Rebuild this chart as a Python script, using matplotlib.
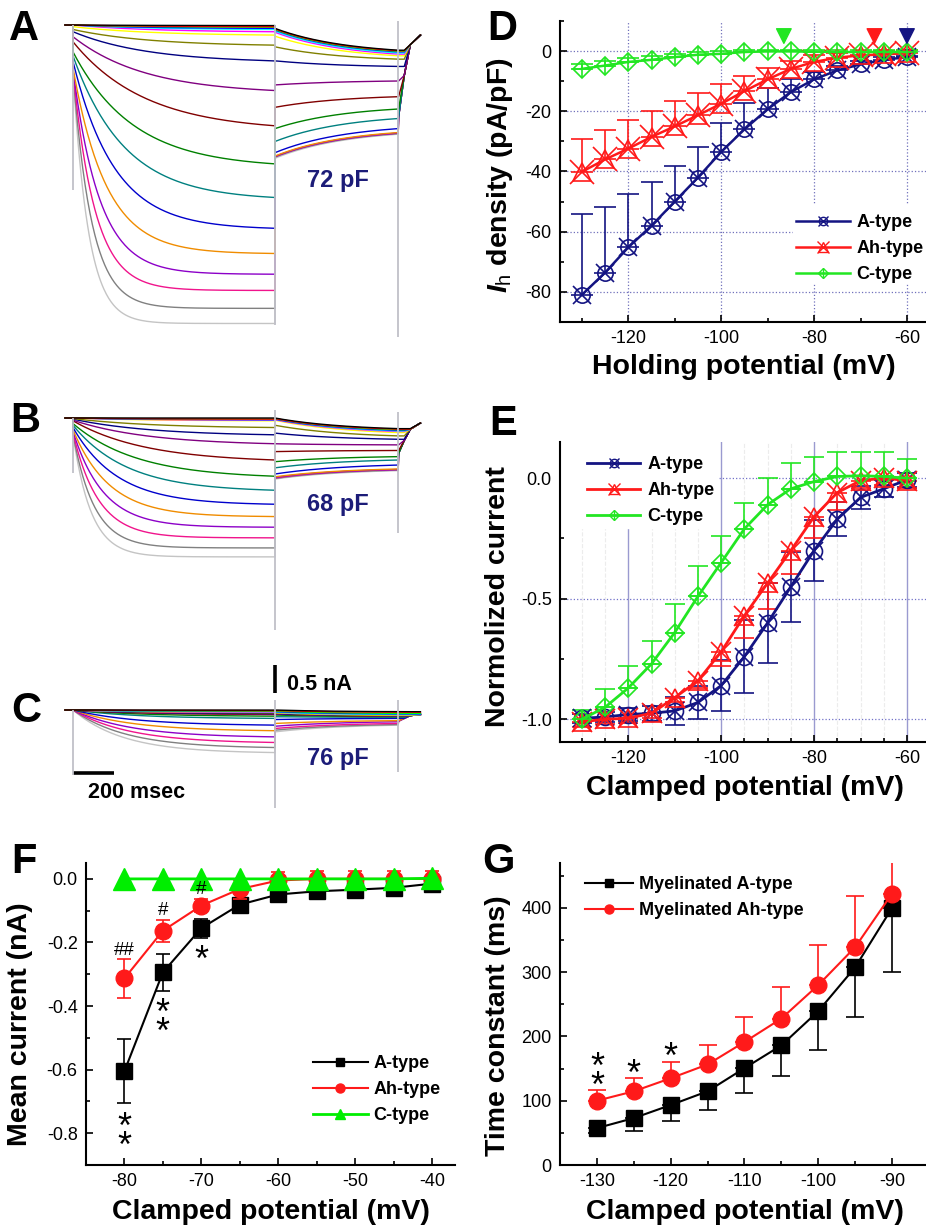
import numpy as np
import matplotlib
matplotlib.use("Agg")
import matplotlib.pyplot as plt
from matplotlib.lines import Line2D
from matplotlib.patches import Rectangle
from matplotlib.ticker import MultipleLocator, FormatStrFormatter
from matplotlib.transforms import offset_copy

plt.rcParams['font.family'] = ['Liberation Sans', 'DejaVu Sans']
plt.rcParams['axes.unicode_minus'] = False
plt.rcParams['mathtext.fontset'] = 'custom'
plt.rcParams['mathtext.it'] = 'Liberation Sans:italic:bold'
plt.rcParams['mathtext.rm'] = 'Liberation Sans'

W, H = 926, 1229

# ---------------- current traces (A-C), currents in nA (inward, shown downward) ----------------
trace_colors = ['#000000', '#ff0000', '#00ff00', '#0000ff', '#00ffff', '#ff00ff', '#ffff00',
                '#808000', '#000080', '#800080', '#800000', '#008000', '#008080', '#0000cc',
                '#f08c00', '#8c00c8', '#f0148c', '#808080', '#c4c4c4']
step_ms = 1000
tail_ms = 1610
tail_tau = 350
post_ms = [1612, 1640, 1670, 1720]

a_inst = [0, 0, 0, 0, 0, 0, 0.03, 0.08, 0.12, 0.21, 0.30, 0.48, 0.55, 0.65, 0.77, 0.80, 0.83, 0.86, 0.86]
a_end = [0.01, 0.03, 0.04, 0.06, 0.08, 0.12, 0.18, 0.36, 0.64, 1.17, 1.80, 2.48, 3.08, 3.63, 4.08, 4.45, 4.74, 5.06, 5.33]
a_tau = [400, 400, 400, 400, 400, 400, 400, 380, 370, 360, 360, 300, 255, 205, 165, 132, 109, 93, 77]
a_tail_start = [0.06, 0.07, 0.08, 0.09, 0.11, 0.13, 0.20, 0.39, 0.64, 1.07, 1.47, 1.85, 2.08, 2.28, 2.34, 2.35, 2.35, 2.36, 2.38]
a_tail_end = [0.45, 0.46, 0.47, 0.48, 0.50, 0.52, 0.55, 0.61, 0.74, 1.00, 1.28, 1.50, 1.67, 1.85, 1.92, 1.93, 1.93, 1.94, 1.95]
a_post = [1.64, 0.90, 0.35, 0.18]
a_cap_top = [0.0, 0.0, 0.07]
a_cap_bot = [2.95, 5.36, 5.57]

b_inst = [0, 0, 0, 0, 0, 0, 0, 0.01, 0.02, 0.04, 0.05, 0.10, 0.13, 0.17, 0.21, 0.24, 0.27, 0.29, 0.30]
b_end = [0.0, 0.02, 0.02, 0.03, 0.03, 0.04, 0.05, 0.17, 0.30, 0.46, 0.75, 1.04, 1.29, 1.54, 1.76, 1.95, 2.14, 2.32, 2.48]
b_tau = [400, 400, 400, 400, 400, 400, 400, 400, 390, 380, 360, 320, 270, 220, 180, 150, 125, 105, 90]
b_tail_start = [0.0, 0.01, 0.01, 0.02, 0.02, 0.03, 0.04, 0.13, 0.27, 0.46, 0.60, 0.78, 0.89, 1.00, 1.05, 1.06, 1.07, 1.08, 1.09]
b_tail_end = [0.19, 0.20, 0.21, 0.22, 0.23, 0.24, 0.26, 0.32, 0.38, 0.48, 0.58, 0.69, 0.75, 0.84, 0.91, 0.92, 0.92, 0.93, 0.94]
b_post = [0.63, 0.40, 0.20, 0.09]
b_cap_top = [0.0, 0.14, 0.11]
b_cap_bot = [0.98, 3.79, 2.05]

c_inst = [0] * 19
c_end = [0.0, 0.01, 0.02, 0.02, 0.03, 0.04, 0.04, 0.05, 0.06, 0.07, 0.08, 0.11, 0.15, 0.27, 0.37, 0.48, 0.58, 0.67, 0.76]
c_tau = [350, 350, 350, 350, 350, 350, 350, 350, 350, 350, 350, 350, 330, 320, 300, 290, 280, 265, 250]
c_tail_start = [0.0, 0.01, 0.02, 0.03, 0.04, 0.04, 0.05, 0.05, 0.06, 0.07, 0.07, 0.09, 0.12, 0.17, 0.24, 0.29, 0.33, 0.36, 0.39]
c_tail_end = [0.03, 0.04, 0.06, 0.07, 0.08, 0.08, 0.09, 0.10, 0.10, 0.11, 0.11, 0.12, 0.13, 0.15, 0.19, 0.21, 0.24, 0.26, 0.27]
c_post = [0.20, 0.15, 0.10, 0.08]
c_cap_top = [0.0, 0.18, 0.18]
c_cap_bot = [1.16, 1.75, 1.11]

cell_pf = ['72 pF', '68 pF', '76 pF']

# ---------------- D: Ih density ----------------
d_volt = [-130, -125, -120, -115, -110, -105, -100, -95, -90, -85, -80, -75, -70, -65, -60]
d_a = [-81, -73.6, -65.2, -58, -50, -42, -33.5, -26, -19.3, -13.6, -9.4, -6.4, -4.4, -2.9, -2.0]
d_a_err = [27, 21.7, 17.7, 14.6, 11.9, 10.1, 9.7, 8.8, 7.0, 4.2, 2.4, 1.5, 1.0, 1.0, 0.5]
d_ah = [-40.1, -36, -32.4, -28.5, -25, -21.3, -17.5, -13.3, -9.4, -5.9, -3.6, -2.2, -1.4, -1.1, -0.7]
d_ah_err = [10.9, 9.7, 9.6, 8.5, 8.4, 7.4, 6.7, 5.1, 3.8, 2.5, 2.4, 1.5, 1.0, 1.0, 1.0]
d_c = [-5.9, -4.8, -3.6, -2.9, -2.0, -1.2, -0.9, -0.3, -0.1, -0.1, -0.2, -0.3, -0.3, -0.3, -0.3]
d_c_err = [1.5, 1.5, 1.4, 1.2, 1.0, 0.8, 0.8, 0.6, 0.5, 0.5, 0.5, 0.5, 0.5, 0.5, 0.5]
d_arrow_x = [-86.5, -67, -60]
d_arrow_y = [5, 5, 5]

# ---------------- E: normalized current ----------------
e_a = [-0.996, -0.99, -0.98, -0.975, -0.965, -0.93, -0.86, -0.74, -0.60, -0.45, -0.30, -0.17, -0.08, -0.044, -0.007]
e_a_err = [0.02, 0.02, 0.025, 0.03, 0.058, 0.07, 0.107, 0.15, 0.165, 0.145, 0.125, 0.07, 0.047, 0.035, 0.03]
e_ah = [-1.01, -1.0, -0.995, -0.975, -0.91, -0.84, -0.72, -0.57, -0.435, -0.30, -0.16, -0.06, -0.01, 0.0, -0.01]
e_ah_err = [0.02, 0.02, 0.02, 0.02, 0.02, 0.03, 0.06, 0.094, 0.106, 0.097, 0.087, 0.07, 0.03, 0.03, 0.03]
e_c = [-1.0, -0.95, -0.87, -0.77, -0.64, -0.49, -0.35, -0.21, -0.11, -0.044, -0.014, 0.007, 0.01, 0.007, 0.0]
e_c_err = [0.04, 0.076, 0.09, 0.095, 0.118, 0.125, 0.11, 0.107, 0.11, 0.106, 0.1, 0.1, 0.1, 0.1, 0.08]

# ---------------- F: mean current ----------------
f_volt = [-80, -75, -70, -65, -60, -55, -50, -45, -40]
f_a = [-0.605, -0.294, -0.155, -0.081, -0.049, -0.039, -0.034, -0.028, -0.015]
f_a_err = [0.1, 0.058, 0.03, 0.02, 0.012, 0.01, 0.01, 0.01, 0.01]
f_ah = [-0.313, -0.163, -0.084, -0.032, -0.005, 0.0, 0.0, 0.0, 0.0]
f_ah_err = [0.062, 0.034, 0.02, 0.03, 0.028, 0.025, 0.025, 0.025, 0.025]
f_c = [0.0, 0.0, 0.0, 0.0, 0.0, 0.0, 0.0, 0.0, 0.002]
# y = centre of the lowest asterisk of each mark
f_star_x = [-70, -75, -80]
f_star_y = [-0.223, -0.451, -0.808]
f_star_txt = ['*', '*\n*', '*\n*']
f_hash_x = [-80, -75, -70]
f_hash_y = [-0.216, -0.093, -0.024]
f_hash_txt = ['##', '#', '#']

# ---------------- G: time constant ----------------
g_volt = [-130, -125, -120, -115, -110, -105, -100, -95, -90]
g_a = [57.4, 73, 93.3, 114.7, 150.7, 186.2, 239.4, 307.7, 400]
g_a_err = [8, 20, 24.5, 28.7, 39, 47, 60, 77, 100]
g_ah = [100.1, 114.7, 135, 156.5, 191.4, 227.9, 280, 339, 422.4]
g_ah_err = [17, 20, 25, 31, 39, 49.5, 62.6, 79, 60]
g_star_x = [-130, -125, -120]
g_star_y = [139, 158, 183]
g_star_txt = ['*\n*', '*', '*']

NAVY = '#141482'
RED = '#ff1a1a'
GREEN = '#22e622'

fig = plt.figure(figsize=(W / 100, H / 100), dpi=100)


def px_axes(x0, y0, x1, y1):
    return fig.add_axes([x0 / W, 1 - y1 / H, (x1 - x0) / W, (y1 - y0) / H])


def ftext(x, y, s, **kw):
    fig.text(x / W, 1 - y / H, s, **kw)


# ---------------- trace panels ----------------
ms_per_px = 1000 / 202.0
nA_per_px = 1 / 56.0


def draw_traces(box, base_px, inst, end, tau, t_start, t_end, post, cap_top, cap_bot, label, lab_xy, pf_xy):
    x0, y0, x1, y1 = box
    ax = px_axes(x0, y0, x1, y1)
    ax.set_xlim((x0 - 73) * ms_per_px, (x1 - 73) * ms_per_px)
    ax.set_ylim(-(y1 - base_px) * nA_per_px, (base_px - y0) * nA_per_px)
    ax.axis('off')
    ts = np.linspace(0, step_ms, 250)
    tt = np.linspace(step_ms, tail_ms, 120)
    for i in range(len(end) - 1, -1, -1):
        step = inst[i] + (end[i] - inst[i]) * (1 - np.exp(-ts / tau[i])) / (1 - np.exp(-step_ms / tau[i]))
        tail = t_start[i] + (t_end[i] - t_start[i]) * (1 - np.exp(-(tt - step_ms) / tail_tau)) \
            / (1 - np.exp(-(tail_ms - step_ms) / tail_tau))
        pst = np.minimum(t_end[i], post)
        t = np.concatenate([[-40, 0], ts, tt, post_ms])
        y = np.concatenate([[0, 0], step, tail, pst])
        ax.plot(t, -y, color=trace_colors[i], lw=1.0)
    ax.vlines([0, step_ms, tail_ms], cap_top, -np.array(cap_bot), color='#c0c0c8', lw=1.3, zorder=3)
    ftext(lab_xy[0], lab_xy[1], label, fontsize=30, fontweight='bold', ha='left', va='baseline')
    ftext(pf_xy[0], pf_xy[1], cell_pf['ABC'.index(label)], fontsize=17, fontweight='bold',
          color='#1c1c78', ha='center', va='center')
    return ax


draw_traces((60, 0, 440, 360), 25, a_inst, a_end, a_tau, a_tail_start, a_tail_end, a_post,
            a_cap_top, a_cap_bot, 'A', (9, 40), (338, 180))
draw_traces((60, 370, 440, 650), 418, b_inst, b_end, b_tau, b_tail_start, b_tail_end, b_post,
            b_cap_top, b_cap_bot, 'B', (10, 432), (338, 505))
axc = draw_traces((60, 640, 440, 830), 710, c_inst, c_end, c_tau, c_tail_start, c_tail_end, c_post,
                  c_cap_top, c_cap_bot, 'C', (11, 722), (338, 758))
# scale bars
axc.plot([1002, 1002], [0.30, 0.80], color='black', lw=2.6, solid_capstyle='butt')
axc.plot([0, 205], [-1.125, -1.125], color='black', lw=2.6, solid_capstyle='butt')
ftext(287, 685, '0.5 nA', fontsize=15.5, fontweight='bold', ha='left', va='center')
ftext(137, 793, '200 msec', fontsize=15.5, fontweight='bold', ha='center', va='center')


# ---------------- plot panels ----------------
def style(ax):
    for s in ['top', 'right']:
        ax.spines[s].set_visible(False)
    for s in ['left', 'bottom']:
        ax.spines[s].set_linewidth(1.5)
    ax.tick_params(which='both', direction='in', labelsize=13, width=1.2, pad=6)
    ax.tick_params(which='major', length=5)
    ax.tick_params(which='minor', length=3)
    ax.set_axisbelow(True)


def combo(ax, x, y, color, m1, s1, m2, s2, lw):
    ax.plot(x, y, color=color, lw=lw, marker=m1, ms=s1, mfc='none', mec=color, mew=1.2, zorder=3)
    ax.plot(x, y, ls='none', marker=m2, ms=s2, mec=color, mew=1.2, zorder=3)


def combo_handle(color, m1, s1, m2, s2, lw):
    return (Line2D([], [], color=color, lw=lw),
            Line2D([], [], ls='none', marker=m1, ms=s1, mfc='none', mec=color, mew=1.0),
            Line2D([], [], ls='none', marker=m2, ms=s2, mec=color, mew=1.0))


def stars(ax, xs, ys, txts):
    # baseline of the last line sits 21 px below the centre of the lowest asterisk
    tf = offset_copy(ax.transData, fig=fig, x=0, y=-21, units='dots')
    for x, y, s in zip(xs, ys, txts):
        ax.text(x, y, s, transform=tf, fontsize=26, ha='center', va='baseline',
                linespacing=0.41, zorder=6)


zeros15 = np.zeros(len(d_volt))
leg_kw = dict(loc='upper left', frameon=False, borderpad=0, borderaxespad=0,
              labelspacing=0.5, prop={'weight': 'bold', 'size': 13})

# D
axd = px_axes(560, 21, 926, 322)
style(axd)
axd.set_xlim(-134.7, -55.9)
axd.set_ylim(-90, 10)
axd.xaxis.set_major_locator(MultipleLocator(20))
axd.xaxis.set_minor_locator(MultipleLocator(10))
axd.yaxis.set_major_locator(MultipleLocator(20))
axd.yaxis.set_minor_locator(MultipleLocator(10))
axd.grid(True, which='major', color='#7070bb', ls=':', lw=0.9)
axd.errorbar(d_volt, d_a, yerr=[zeros15, d_a_err], fmt='none', ecolor=NAVY, elinewidth=1.2, capsize=8, capthick=1.2)
axd.errorbar(d_volt, d_ah, yerr=[zeros15, d_ah_err], fmt='none', ecolor=RED, elinewidth=1.2, capsize=8, capthick=1.2)
axd.errorbar(d_volt, d_c, yerr=[zeros15, d_c_err], fmt='none', ecolor=GREEN, elinewidth=1.2, capsize=8, capthick=1.2)
combo(axd, d_volt, d_a, NAVY, 'o', 11, 'x', 13, 1.8)
combo(axd, d_volt, d_ah, RED, '^', 13, 'x', 17, 1.8)
combo(axd, d_volt, d_c, GREEN, 'D', 9, '+', 11, 1.8)
axd.scatter(d_arrow_x, d_arrow_y, marker='v', s=110, c=[GREEN, RED, NAVY], zorder=4)
axd.add_patch(Rectangle((0.637, 0.13), 0.363, 0.259, transform=axd.transAxes, color='white', zorder=1))
axd.legend(handles=[combo_handle(NAVY, 'o', 6, 'x', 7, 1.8), combo_handle(RED, '^', 7, 'x', 8, 1.8),
                    combo_handle(GREEN, 'D', 5, '+', 7, 1.8)],
           labels=['A-type', 'Ah-type', 'C-type'], bbox_to_anchor=(0.645, 0.359),
           handlelength=3.0, handletextpad=0.33, **leg_kw)
ftext(487, 40, 'D', fontsize=30, fontweight='bold', ha='left', va='baseline')
ftext(500, 175, r'$I_{\rm h}$ density (pA/pF)', rotation=90, fontsize=20.5, fontweight='bold', ha='center', va='center')
ftext(744, 367, 'Holding potential (mV)', fontsize=20.5, fontweight='bold', ha='center', va='center')

# E
axe = px_axes(560, 442, 926, 742)
style(axe)
axe.set_xlim(-134.7, -55.9)
axe.set_ylim(-1.094, 0.15)
axe.xaxis.set_major_locator(MultipleLocator(20))
axe.xaxis.set_minor_locator(MultipleLocator(5))
axe.yaxis.set_major_locator(MultipleLocator(0.5))
axe.yaxis.set_minor_locator(MultipleLocator(0.25))
axe.yaxis.set_major_formatter(FormatStrFormatter('%.1f'))
axe.yaxis.grid(True, which='major', color='#7070c8', ls=':', lw=0.9)
axe.xaxis.grid(True, which='major', color='#9a9ad0', ls='-', lw=1.0)
axe.xaxis.grid(True, which='minor', color='#ececec', ls='--', lw=0.8)
axe.errorbar(d_volt, e_a, yerr=e_a_err, fmt='none', ecolor=NAVY, elinewidth=1.2, capsize=7, capthick=1.2)
axe.errorbar(d_volt, e_ah, yerr=[e_ah_err, zeros15], fmt='none', ecolor=RED, elinewidth=1.2, capsize=7, capthick=1.2)
axe.errorbar(d_volt, e_c, yerr=[zeros15, e_c_err], fmt='none', ecolor=GREEN, elinewidth=1.2, capsize=7, capthick=1.2)
combo(axe, d_volt, e_a, NAVY, 'o', 11.5, 'x', 13, 2.0)
combo(axe, d_volt, e_ah, RED, '^', 13, 'x', 14.5, 2.0)
combo(axe, d_volt, e_c, GREEN, 'D', 9.4, '+', 12, 2.0)
axe.add_patch(Rectangle((0, 0.713), 0.432, 0.287, transform=axe.transAxes, color='white', zorder=1))
axe.legend(handles=[combo_handle(NAVY, 'o', 6, 'x', 7, 2.0), combo_handle(RED, '^', 7, 'x', 8, 2.0),
                    combo_handle(GREEN, 'D', 5, '+', 7, 2.0)],
           labels=['A-type', 'Ah-type', 'C-type'], bbox_to_anchor=(0.074, 0.953),
           handlelength=2.95, handletextpad=0.4, **leg_kw)
ftext(489, 435, 'E', fontsize=30, fontweight='bold', ha='left', va='baseline')
ftext(498, 597, 'Normolized current', rotation=90, fontsize=20.5, fontweight='bold', ha='center', va='center')
ftext(745, 788, 'Clamped potential (mV)', fontsize=20.5, fontweight='bold', ha='center', va='center')

# F
axf = px_axes(86, 863, 455, 1165)
style(axf)
axf.set_xlim(-85, -37)
axf.set_ylim(-0.9, 0.05)
axf.xaxis.set_major_locator(MultipleLocator(10))
axf.xaxis.set_minor_locator(MultipleLocator(5))
axf.yaxis.set_major_locator(MultipleLocator(0.2))
axf.yaxis.set_minor_locator(MultipleLocator(0.1))
axf.yaxis.set_major_formatter(FormatStrFormatter('%.1f'))
FGREEN = '#00ee00'
axf.errorbar(f_volt, f_a, yerr=f_a_err, color='black', lw=1.5, marker='s', ms=11.5,
             elinewidth=1.2, capsize=5, capthick=1.2, zorder=3)
axf.errorbar(f_volt, f_ah, yerr=f_ah_err, color=RED, lw=1.5, marker='o', ms=12,
             elinewidth=1.2, capsize=5, capthick=1.2, zorder=4)
axf.plot(f_volt, f_c, color=FGREEN, lw=2, marker='^', ms=16, zorder=5)
axf.legend(handles=[Line2D([], [], color='black', lw=1.5, marker='s', ms=6),
                    Line2D([], [], color=RED, lw=1.5, marker='o', ms=6.5),
                    Line2D([], [], color=FGREEN, lw=2, marker='^', ms=7.5)],
           labels=['A-type', 'Ah-type', 'C-type'], bbox_to_anchor=(0.615, 0.364),
           handlelength=3.05, handletextpad=0.3, **leg_kw)
stars(axf, f_star_x, f_star_y, f_star_txt)
hash_tf = offset_copy(axf.transData, fig=fig, x=0, y=-7, units='dots')
for x, y, s in zip(f_hash_x, f_hash_y, f_hash_txt):
    axf.text(x, y, s, transform=hash_tf, fontsize=13.5, ha='center', va='baseline', zorder=6)
ftext(11, 873, 'F', fontsize=30, fontweight='bold', ha='left', va='baseline')
ftext(20, 1024, 'Mean current (nA)', rotation=90, fontsize=20.5, fontweight='bold', ha='center', va='center')
ftext(271, 1212, 'Clamped potential (mV)', fontsize=20.5, fontweight='bold', ha='center', va='center')

# G
axg = px_axes(560, 863, 926, 1165)
style(axg)
axg.set_xlim(-135, -85.4)
axg.set_ylim(0, 470)
axg.xaxis.set_major_locator(MultipleLocator(10))
axg.xaxis.set_minor_locator(MultipleLocator(5))
axg.yaxis.set_major_locator(MultipleLocator(100))
axg.yaxis.set_minor_locator(MultipleLocator(50))
zeros9 = np.zeros(len(g_volt))
axg.errorbar(g_volt, g_a, yerr=[g_a_err, zeros9], color='black', lw=1.5, marker='s', ms=11.5,
             elinewidth=1.2, capsize=6.5, capthick=1.2, zorder=3)
axg.errorbar(g_volt, g_ah, yerr=[zeros9, g_ah_err], color=RED, lw=1.5, marker='o', ms=12,
             elinewidth=1.2, capsize=6.5, capthick=1.2, zorder=4)
axg.legend(handles=[Line2D([], [], color='black', lw=1.5, marker='s', ms=6),
                    Line2D([], [], color=RED, lw=1.5, marker='o', ms=6.5)],
           labels=['Myelinated A-type', 'Myelinated Ah-type'], bbox_to_anchor=(0.068, 0.957),
           handlelength=2.67, handletextpad=0.33, **leg_kw)
stars(axg, g_star_x, g_star_y, g_star_txt)
ftext(482, 873, 'G', fontsize=30, fontweight='bold', ha='left', va='baseline')
ftext(498, 1026, 'Time constant (ms)', rotation=90, fontsize=20.5, fontweight='bold', ha='center', va='center')
ftext(745, 1212, 'Clamped potential (mV)', fontsize=20.5, fontweight='bold', ha='center', va='center')

fig.savefig('out.png', dpi=100)
